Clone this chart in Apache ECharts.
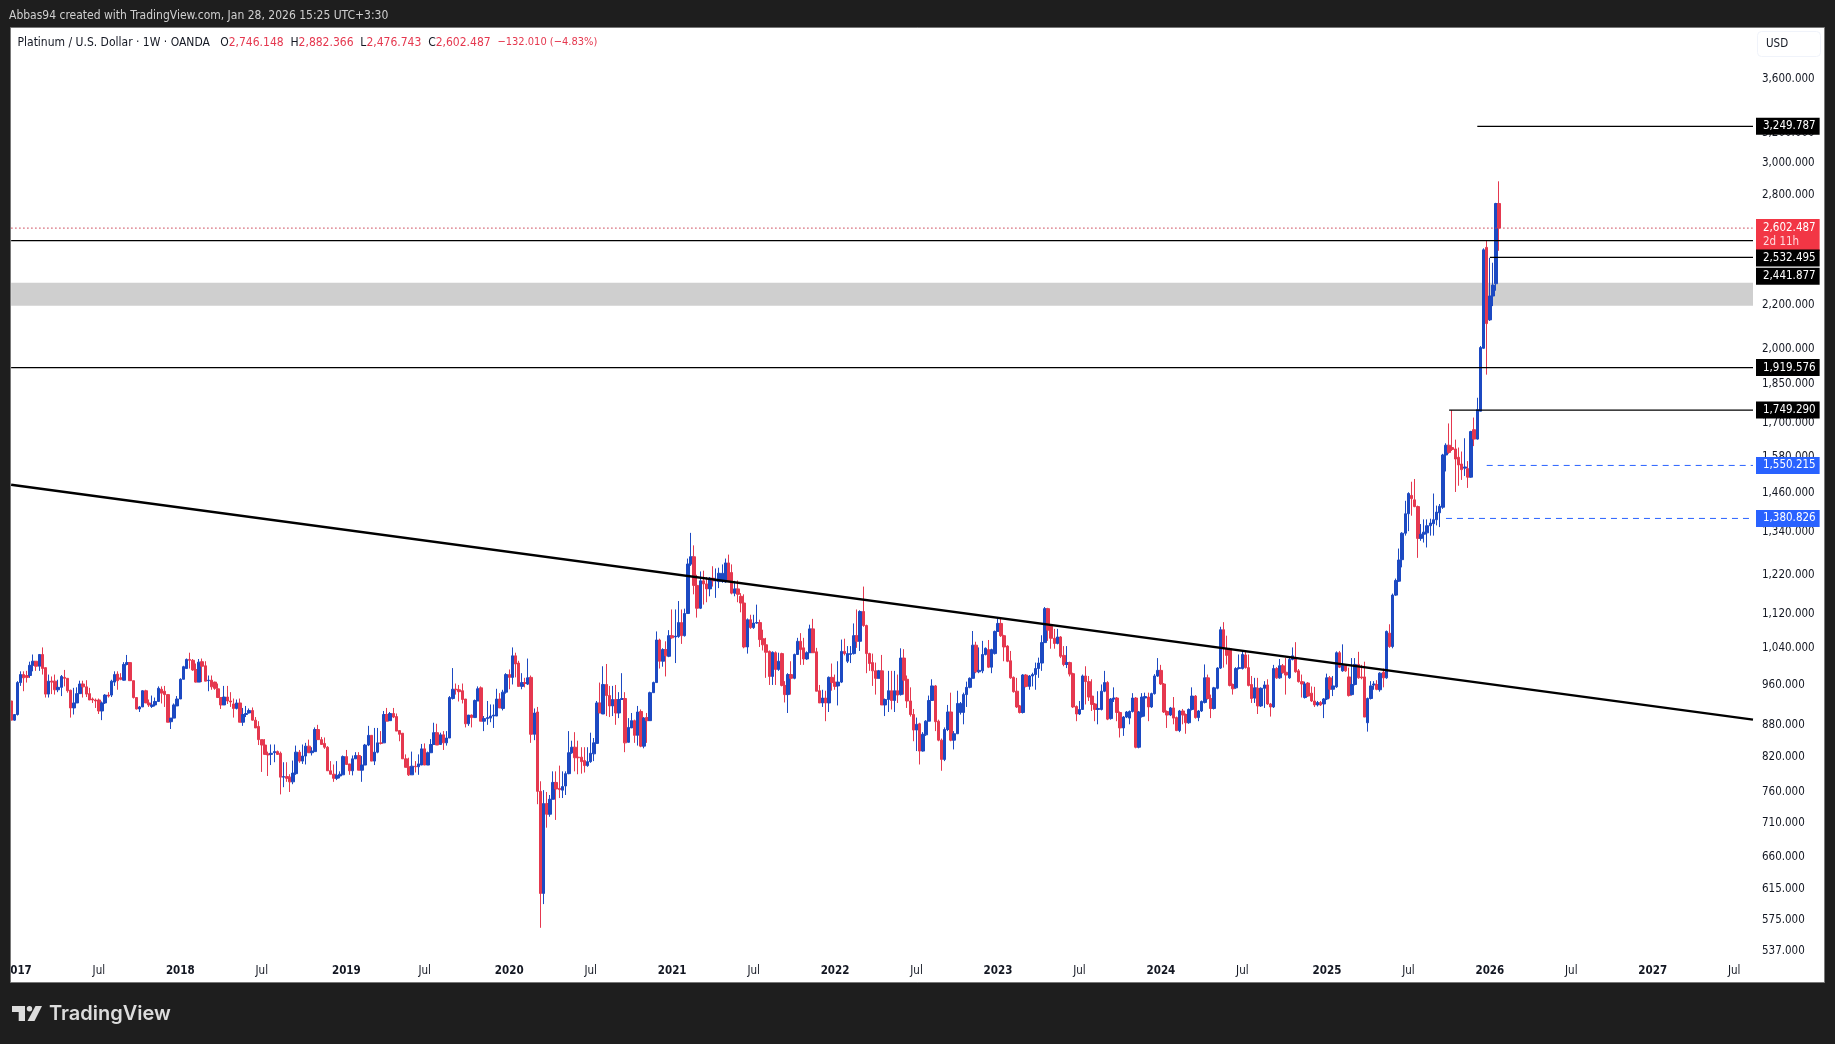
<!DOCTYPE html>
<html lang="en">
<head>
<meta charset="UTF-8">
<title>Platinum / U.S. Dollar 1W</title>
<style>
  html, body { margin: 0; padding: 0; background: #1e1e1e; }
  #main { width: 1835px; height: 1044px; }
</style>
</head>
<body>
<div id="main"></div>
<script src="https://cdn.jsdelivr.net/npm/echarts@6/dist/echarts.min.js"></script>
<script>
// weekly bars, first week is 2016-12-19: [open, close, low, high]
var weeklyBars = [
[927,889,889,931],[889,900,888,900],[900,965,898,968],[965,982,958,989],[982,975,947,989],[980,976,965,990],[980,1002,975,1010],[1002,1011,989,1026],
[1011,1000,990,1011],[1000,1026,990,1026],[1026,995,982,1042],[997,941,934,997],[941,968,934,982],[968,966,941,978],[968,950,940,982],[950,955,945,971],
[955,978,937,981],[976,974,957,992],[974,948,944,974],[949,913,894,950],[913,923,900,954],[923,942,923,955],[942,962,942,969],[962,956,934,969],
[956,941,935,970],[942,929,929,954],[931,929,923,934],[929,927,913,932],[929,907,901,932],[907,923,889,926],[923,939,921,941],[939,937,934,945],
[939,968,935,971],[966,982,958,989],[983,969,950,989],[975,972,970,985],[970,1004,969,1009],[1004,1008,1002,1025],[1008,969,969,1009],[969,934,932,969],
[934,911,910,934],[911,915,905,917],[915,948,915,949],[948,923,923,950],[923,919,915,930],[916,919,913,938],[919,926,916,934],[926,953,926,957],
[951,943,922,957],[947,940,915,958],[940,885,885,941],[886,893,872,893],[893,919,893,922],[917,931,917,937],[931,972,931,974],[972,999,972,1001],
[995,1015,995,1017],[1015,1013,995,1030],[1013,992,990,1016],[993,966,965,1006],[966,1009,966,1016],[1010,1000,966,1017],[1001,968,968,1011],[969,970,947,980],
[970,956,950,980],[966,953,950,967],[952,934,934,963],[934,919,911,934],[919,935,919,958],[935,927,921,958],[927,925,915,945],[921,912,894,932],
[912,923,910,930],[923,885,885,932],[885,900,878,913],[900,902,895,917],[903,908,902,912],[908,889,888,914],[889,874,874,895],[877,852,842,887],
[852,842,794,852],[842,825,825,853],[826,824,787,830],[825,827,806,843],[828,830,811,843],[830,825,824,832],[827,785,756,830],[785,786,768,811],
[786,783,777,811],[785,777,760,790],[777,792,773,814],[791,829,789,841],[829,813,810,833],[813,822,808,843],[822,840,807,846],[840,828,828,852],
[828,831,823,838],[830,871,830,875],[871,852,852,880],[852,843,843,857],[845,838,835,856],[838,796,796,840],[796,790,790,813],[790,783,777,807],
[783,788,780,813],[787,790,783,795],[789,821,789,823],[821,807,807,833],[808,796,789,808],[796,817,788,823],[817,823,817,829],[823,797,797,829],
[797,806,777,822],[806,842,806,844],[842,860,840,878],[860,813,813,860],[813,829,806,874],[829,846,827,874],[846,845,843,868],[846,900,846,907],
[900,887,887,913],[888,902,888,905],[902,895,893,913],[896,868,868,902],[869,862,849,870],[864,817,817,864],[817,802,802,825],[803,789,787,819],
[789,804,789,830],[804,803,793,813],[803,808,789,825],[806,835,806,844],[835,806,806,845],[806,828,806,830],[828,843,828,853],[843,865,842,884],
[865,842,842,882],[843,861,843,865],[861,846,833,868],[846,855,841,868],[855,934,855,937],[932,951,930,996],[951,950,940,963],[950,946,926,960],
[948,930,922,963],[931,882,875,931],[882,899,878,899],[899,894,875,900],[894,928,894,930],[927,952,927,957],[954,887,887,957],[887,892,868,897],
[892,894,880,927],[893,897,885,920],[897,899,874,920],[897,931,897,952],[931,913,913,943],[912,945,908,950],[945,982,942,985],[982,976,951,993],
[976,1023,961,1042],[1023,1005,976,1030],[1007,957,957,1012],[957,965,951,985],[965,963,955,975],[962,975,960,1017],[976,862,846,980],[862,903,851,912],
[905,761,740,915],[761,609,565,778],[609,741,595,763],[741,724,703,760],[724,748,720,755],[748,776,748,795],[776,765,715,795],[766,764,750,805],
[763,769,750,795],[770,791,755,795],[791,828,790,868],[828,838,826,850],[838,819,795,866],[820,819,790,850],[820,812,791,838],[814,805,793,838],
[805,812,803,838],[812,827,810,865],[826,846,813,855],[845,923,845,927],[923,903,903,965],[901,961,901,1000],[961,938,897,1005],[938,917,895,958],
[917,930,897,958],[930,903,880,960],[903,930,893,945],[930,932,930,985],[932,846,829,945],[847,875,847,893],[874,888,874,903],[888,860,846,890],
[860,905,841,917],[906,840,838,910],[840,893,836,895],[894,888,846,903],[888,944,888,946],[944,965,944,967],[965,1059,965,1079],[1059,1011,995,1062],
[1011,1037,999,1040],[1037,1023,978,1056],[1022,1069,1020,1082],[1069,1064,1062,1132],[1066,1068,1007,1132],[1067,1100,1064,1153],[1100,1069,1050,1132],[1069,1122,1067,1134],
[1122,1250,1122,1265],[1250,1270,1245,1338],[1270,1193,1170,1302],[1193,1135,1112,1221],[1135,1205,1133,1230],[1205,1197,1144,1232],[1197,1184,1150,1215],[1184,1212,1165,1215],
[1212,1205,1190,1244],[1205,1207,1161,1238],[1203,1225,1186,1240],[1203,1225,1200,1249],[1202,1253,1200,1265],[1253,1203,1203,1276],[1227,1173,1170,1249],[1173,1184,1165,1205],
[1184,1170,1150,1206],[1165,1148,1125,1173],[1148,1043,1040,1170],[1043,1107,1028,1110],[1107,1088,1085,1119],[1088,1099,1085,1119],[1099,1100,1097,1144],[1100,1060,1043,1107],
[1062,1048,1035,1083],[1048,1031,975,1064],[1033,978,960,1035],[978,1031,960,1033],[1030,993,960,1033],[993,1011,990,1030],[1028,959,957,1030],[959,940,924,968],
[940,982,903,985],[982,974,940,1011],[974,1026,972,1028],[1026,1056,1025,1064],[1056,1037,1003,1075],[1041,1016,1003,1064],[1016,1030,1014,1033],[1030,1085,1030,1095],
[1085,1030,1030,1109],[1032,947,947,1041],[948,923,923,960],[923,933,915,950],[933,923,887,948],[923,976,905,978],[976,965,948,1006],[966,957,950,982],
[958,966,918,1011],[966,1033,964,1060],[1033,1028,1024,1062],[1011,1028,1007,1045],[1026,1028,1007,1045],[1028,1069,1026,1098],[1069,1056,1041,1132],[1056,1127,1034,1130],
[1127,1093,1090,1190],[1093,1028,985,1095],[1028,1006,990,1030],[1008,990,958,1028],[990,974,940,1008],[974,990,974,992],[990,919,919,1025],[919,930,897,932],
[930,948,905,990],[948,928,910,990],[928,948,905,990],[948,939,923,982],[940,1018,938,1040],[1018,970,940,1038],[972,927,913,980],[927,900,896,955],
[900,870,849,911],[870,881,831,894],[882,831,807,884],[831,862,830,866],[861,887,859,889],[887,928,887,938],[928,958,928,972],[958,886,868,960],
[887,851,849,890],[851,816,796,854],[816,871,813,875],[871,905,868,919],[905,851,849,944],[851,863,834,868],[863,922,863,948],[904,922,900,925],
[904,940,881,944],[940,955,915,967],[955,974,953,976],[974,1047,974,1080],[1047,988,985,1055],[988,991,985,1042],[990,1026,985,1057],[1026,1040,1024,1042],
[1037,998,996,1059],[998,1037,985,1039],[1028,1079,1026,1081],[1079,1098,1079,1112],[1098,1069,1066,1110],[1069,1043,1011,1071],[1045,1011,1009,1047],[1012,975,973,1034],
[976,946,944,978],[947,915,913,975],[917,904,902,919],[904,981,902,983],[981,957,955,983],[957,979,950,981],[979,982,957,986],[982,995,950,1008],
[995,1007,975,1019],[1007,1053,990,1070],[1053,1134,1053,1138],[1134,1082,1057,1136],[1091,1063,1039,1095],[1063,1051,1039,1085],[1051,1066,1049,1085],[1066,1022,1018,1068],
[1024,1004,1000,1045],[1004,1008,996,1045],[1008,983,978,1010],[984,915,913,986],[916,901,887,918],[901,910,899,927],[910,979,910,982],[979,967,920,1000],
[967,935,927,979],[937,920,907,972],[921,910,887,923],[910,912,881,947],[910,947,908,961],[947,965,945,990],[965,891,889,968],[892,931,890,933],
[931,933,925,955],[933,904,887,935],[904,874,856,906],[874,895,859,897],[895,905,893,907],[893,906,881,908],[906,933,904,943],[933,838,836,935],
[838,905,836,907],[896,935,894,943],[933,936,896,944],[935,915,887,944],[915,942,913,944],[942,979,940,983],[979,991,977,1018],[991,962,960,1003],
[962,905,903,964],[906,899,874,908],[899,913,897,915],[913,893,881,935],[894,869,868,896],[869,907,866,909],[907,899,881,911],[900,884,863,902],
[884,910,882,912],[910,937,908,955],[937,894,892,939],[894,907,887,909],[907,926,905,928],[924,975,922,1004],[975,932,930,982],[932,912,893,940],
[912,954,910,956],[953,996,951,998],[996,1083,994,1090],[1083,1039,997,1101],[1039,1024,1004,1069],[1039,959,957,1041],[961,952,940,963],[954,995,952,998],
[995,997,993,1026],[995,1026,993,1034],[1025,997,995,1033],[997,959,957,1026],[961,932,923,979],[933,954,923,975],[953,917,901,975],[917,953,915,955],
[953,960,913,968],[960,921,919,972],[921,915,896,923],[915,995,913,1003],[995,975,973,998],[975,1001,973,1016],[1001,986,984,1005],[987,981,940,1018],
[975,1015,973,1019],[1015,1023,1013,1042],[1018,988,986,1054],[990,967,965,994],[967,962,934,982],[934,962,932,967],[964,937,935,966],[943,927,925,957],
[927,919,915,956],[919,924,916,927],[924,919,917,927],[921,931,893,933],[931,975,929,984],[975,951,932,979],[951,958,937,979],[956,1030,954,1033],
[1030,998,996,1034],[990,1002,988,1049],[1002,990,988,1004],[977,938,936,997],[940,961,938,1018],[961,1004,959,1018],[1004,975,973,1032],[977,975,972,1003],
[977,895,895,1010],[884,932,867,934],[932,958,930,968],[960,962,950,968],[961,951,949,970],[950,985,946,987],[987,975,955,995],[975,1079,973,1081],
[1075,1044,1041,1096],[1044,1168,1040,1172],[1168,1206,1166,1211],[1204,1261,1202,1293],[1262,1337,1241,1340],[1337,1395,1330,1435],[1395,1458,1343,1462],[1452,1442,1389,1496],
[1438,1417,1415,1505],[1417,1322,1267,1420],[1322,1334,1315,1364],[1334,1340,1310,1378],[1338,1359,1296,1378],[1359,1367,1330,1380],[1365,1377,1330,1458],[1377,1400,1360,1420],
[1398,1418,1355,1425],[1415,1586,1410,1590],[1586,1620,1530,1627],[1620,1595,1590,1699],[1612,1605,1600,1749],[1607,1572,1463,1640],[1578,1552,1483,1612],[1555,1536,1502,1598],
[1541,1545,1515,1645],[1539,1511,1476,1565],[1511,1669,1509,1672],[1676,1642,1617,1721],[1642,1751,1640,1797],[1745,2005,1745,2012],[2002,2482,2000,2490],[2495,2113,1890,2530],
[2130,2244,2125,2438],[2244,2298,2195,2413],[2305,2746,2270,2750],[2746.148,2602.487,2476.743,2882.366]
];

var yTicks = [3600,3200,3000,2800,2200,2000,1850,1700,1580,1460,1340,1220,1120,1040,960,880,820,760,710,660,615,575,537];
var xTickDates = ['2017-01-02','2017-07-03','2018-01-01','2018-07-02','2019-01-07','2019-07-01','2020-01-06','2020-07-06','2021-01-04','2021-07-05','2022-01-03','2022-07-04','2023-01-02','2023-07-03','2024-01-01','2024-07-01','2025-01-06','2025-07-07','2026-01-05','2026-07-06','2027-01-04','2027-07-05'];
var xTickTexts = ['2017','Jul','2018','Jul','2019','Jul','2020','Jul','2021','Jul','2022','Jul','2023','Jul','2024','Jul','2025','Jul','2026','Jul','2027','Jul'];

// drawn levels: price, first week they start
var blackLevels = [3249.787, 2532.495, 2441.877, 1919.576, 1749.29];
var blackStarts = ['2025-12-08', '2016-12-19', '2026-01-05', '2016-12-19', '2025-10-06'];
var blueLevels = [1550.215, 1380.826];
var blueStarts = ['2025-12-29', '2025-09-29'];
var lastClose = 2602.487;
var bandTop = 2310, bandBottom = 2197;
var trendStart = 1486, trendEnd = 890;

var weekCount = 557;
var weeks = [];
for (var k = 0; k < weekCount; k++) {
    weeks.push(new Date(Date.UTC(2016, 11, 19 + k * 7)).toISOString().slice(0, 10));
}
var lastWeek = weeks[weeks.length - 1];

var FONT = '"DejaVu Sans Condensed", "DejaVu Sans"';
var UP = '#1c49c2', DOWN = '#e5384f';

function money(v) {
    return v.toLocaleString('en-US', { minimumFractionDigits: 3, maximumFractionDigits: 3 });
}

function levelSeries(value, start, color, type, width, shift) {
    return {
        type: 'line',
        data: [[start, value], [lastWeek, value]],
        symbol: 'none',
        silent: true,
        z: 4,
        lineStyle: { color: color, width: width, type: type },
        endLabel: {
            show: true,
            distance: 3,
            offset: [0, shift || 0],
            formatter: money(value),
            color: '#fff',
            backgroundColor: color,
            fontFamily: FONT,
            fontSize: 11.5,
            fontWeight: 500,
            lineHeight: 13,
            padding: [2, 4, 2, 7]
        }
    };
}

var series = [{
    type: 'candlestick',
    data: weeklyBars,
    barWidth: 3,
    z: 2,
    clip: true,
    itemStyle: { color: UP, color0: DOWN, borderColor: UP, borderColor0: DOWN, borderWidth: 1 }
}, {
    type: 'line',
    data: [],
    silent: true,
    z: 3,
    markArea: {
        silent: true,
        itemStyle: { color: 'rgba(128,128,128,0.38)' },
        data: [[{ yAxis: bandTop }, { yAxis: bandBottom }]]
    }
}, {
    type: 'line',
    data: [[weeks[0], trendStart], [lastWeek, trendEnd]],
    symbol: 'none',
    silent: true,
    z: 4,
    lineStyle: { color: '#000', width: 2.4 }
}, {
    type: 'line',
    data: [[weeks[0], lastClose], [lastWeek, lastClose]],
    symbol: 'none',
    silent: true,
    z: 4,
    lineStyle: { color: '#c9394c', width: 1, type: [1.5, 2.5] },
    endLabel: {
        show: true,
        distance: 3,
        offset: [0, 7],
        formatter: '{a|' + money(lastClose) + '}\n{b|2d 11h}',
        backgroundColor: '#f23645',
        padding: [2, 4, 2, 7],
        rich: {
            a: { color: '#fff', fontFamily: FONT, fontSize: 11.5, fontWeight: 500, lineHeight: 14 },
            b: { color: '#ffd9dd', fontFamily: FONT, fontSize: 11.5, lineHeight: 14 }
        }
    }
}];

blackLevels.forEach(function (v, i) {
    // the two lower labels get pushed down below the red last-price box
    var shift = v === 2532.495 ? 17.5 : (v === 2441.877 ? 19 : 0);
    series.push(levelSeries(v, blackStarts[i], '#000', 'solid', 1.2, shift));
});
blueLevels.forEach(function (v, i) {
    series.push(levelSeries(v, blueStarts[i], '#2962ff', [6, 5], 1, 0));
});

var chart = echarts.init(document.getElementById('main'));
chart.setOption({
    animation: false,
    backgroundColor: '#1e1e1e',
    title: [{
        text: 'Abbas94 created with TradingView.com, Jan 28, 2026 15:25 UTC+3:30',
        left: 9,
        top: 9.5,
        padding: 0,
        textStyle: { color: '#cfcfcf', fontFamily: FONT, fontSize: 12, fontWeight: 'normal' }
    }, {
        text: 'Platinum / U.S. Dollar · 1W · OANDA   O{r|2,746.148}  H{r|2,882.366}  L{r|2,476.743}  C{r|2,602.487}  {m|−132.010 (−4.83%)}',
        left: 17.5,
        top: 36.5,
        padding: 0,
        textStyle: {
            color: '#131722', fontFamily: FONT, fontSize: 12, fontWeight: 'normal',
            rich: {
                r: { color: DOWN, fontFamily: FONT, fontSize: 12 },
                m: { color: DOWN, fontFamily: FONT, fontSize: 11 }
            }
        }
    }],
    grid: { left: 9.5, right: 82, top: 28, bottom: 85, containLabel: false },
    xAxis: {
        type: 'category',
        data: weeks,
        boundaryGap: false,
        axisLine: { show: false },
        axisTick: { show: false },
        splitLine: { show: false },
        axisLabel: {
            margin: 6,
            interval: function (i, v) { return xTickDates.indexOf(v) >= 0; },
            formatter: function (v) {
                var t = xTickTexts[xTickDates.indexOf(v)];
                return t === 'Jul' ? t : '{y|' + t + '}';
            },
            color: '#131722',
            fontFamily: FONT,
            fontSize: 11.5,
            rich: { y: { color: '#131722', fontFamily: FONT, fontSize: 11.5, fontWeight: 'bold' } }
        }
    },
    yAxis: {
        type: 'log',
        position: 'right',
        min: 527.8,
        max: 4028,
        axisLine: { show: false },
        axisTick: { show: false },
        splitLine: { show: false },
        axisLabel: {
            customValues: yTicks,
            margin: 9,
            color: '#131722',
            fontFamily: FONT,
            fontSize: 11.5,
            formatter: function (v) { return money(v); }
        }
    },
    series: series,
    graphic: [
        { type: 'rect', z: -10, shape: { x: 10.5, y: 27.5, width: 1814, height: 955 }, style: { fill: '#fff' } },
        { type: 'rect', z: 100, shape: { x: 0, y: 27, width: 10, height: 957 }, style: { fill: '#1e1e1e' } },
        { type: 'rect', z: 101, shape: { x: 10.5, y: 27.5, width: 1814, height: 955 }, style: { fill: 'none', stroke: '#787878', lineWidth: 1 } },
        { type: 'rect', z: 5, shape: { x: 1757.5, y: 31.5, width: 63, height: 25, r: 4 }, style: { fill: '#fff', stroke: '#f0f3fa', lineWidth: 1 } },
        { type: 'text', z: 6, style: { x: 1766, y: 44, text: 'USD', fill: '#131722', font: '11.5px "DejaVu Sans Condensed", "DejaVu Sans"', textVerticalAlign: 'middle' } },
        // logo
        { type: 'polygon', z: 6, shape: { points: [[12, 1006], [25, 1006], [25, 1021], [18.7, 1021], [18.7, 1012], [12, 1012]] }, style: { fill: '#dcdcdc' } },
        { type: 'circle', z: 6, shape: { cx: 29.5, cy: 1008.7, r: 2.7 }, style: { fill: '#dcdcdc' } },
        { type: 'polygon', z: 6, shape: { points: [[35.5, 1006], [42, 1006], [34.5, 1021], [27.5, 1021]] }, style: { fill: '#dcdcdc' } },
        { type: 'text', z: 6, style: { x: 49, y: 1014, text: 'TradingView', fill: '#dcdcdc', font: '600 20px Inter', textVerticalAlign: 'middle' } }
    ]
});
</script>
</body>
</html>
